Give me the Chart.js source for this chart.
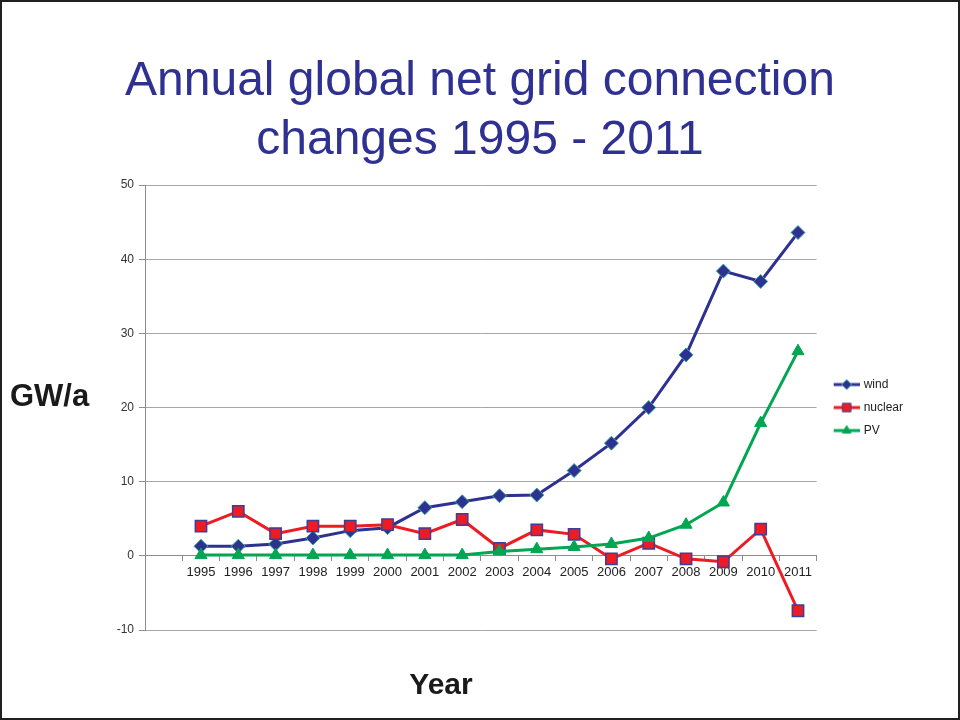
<!DOCTYPE html>
<html>
<head>
<meta charset="utf-8">
<title>Annual global net grid connection changes 1995 - 2011</title>
<script src="https://cdn.jsdelivr.net/npm/chart.js@4/dist/chart.umd.min.js"></script>
<style>
  html, body { margin: 0; padding: 0; background: #fff; }
  #slide { position: relative; width: 960px; height: 720px; overflow: hidden; }
  #slide canvas { position: absolute; left: 0; top: 0; }
  #frame { position: absolute; left: 0; top: 0; width: 960px; height: 720px; box-sizing: border-box;
           border: 2px solid #231f20; pointer-events: none; }
  .axis-name { position: absolute; font-family: "Liberation Sans", Arial, sans-serif; font-weight: bold;
               color: #1a1a1a; white-space: nowrap; }
  #yname { left: 10px; top: 378px; font-size: 31px; line-height: 36px; }
  #xname { left: 391px; top: 667px; width: 100px; text-align: center; font-size: 30px; line-height: 34px; }
</style>
</head>
<body>
<div id="slide">
  <canvas id="grid"></canvas>
  <div class="axis-name" id="yname">GW/a</div>
  <div class="axis-name" id="xname">Year</div>
  <div id="frame"></div>
</div>
<script>
const years = ['1995', '1996', '1997', '1998', '1999', '2000', '2001', '2002', '2003',
               '2004', '2005', '2006', '2007', '2008', '2009', '2010', '2011'];
const wind = [1.3, 1.3, 1.6, 2.4, 3.4, 3.8, 6.5, 7.3, 8.1, 8.2, 11.5, 15.2, 20.0, 27.1, 38.4, 37.0, 43.6];
const nuclear = [4.0, 6.0, 3.0, 4.0, 4.0, 4.2, 3.0, 4.9, 1.0, 3.5, 2.9, -0.4, 1.7, -0.4, -0.8, 3.6, -7.4];
const pv = [0.1, 0.1, 0.1, 0.1, 0.1, 0.1, 0.1, 0.1, 0.6, 0.9, 1.2, 1.6, 2.4, 4.2, 7.2, 17.9, 27.6];
const yTicks = [-10, 0, 10, 20, 30, 40, 50];

// the category axis keeps one blank slot in front of 1995
const labels = [''].concat(years);
const pad = arr => [null].concat(arr);

const FONT = '"Liberation Sans", Arial, sans-serif';

// small line-with-marker swatch for the legend
function swatch(ds) {
  const c = document.createElement('canvas');
  c.width = 34; c.height = 14;
  const ctx = c.getContext('2d');
  ctx.strokeStyle = ds.borderColor;
  ctx.lineWidth = 3;
  ctx.beginPath();
  ctx.moveTo(8, 7);
  ctx.lineTo(34, 7);
  ctx.stroke();
  ctx.fillStyle = ds.pointBackgroundColor;
  ctx.strokeStyle = ds.pointBorderColor;
  ctx.lineWidth = 1;
  Chart.helpers.drawPoint(ctx, {pointStyle: ds.pointStyle, radius: ds.legendRadius, borderWidth: 1, rotation: 0}, 21, 7);
  return c;
}

const datasets = [
  {
    label: 'wind', data: pad(wind), order: 3,
    borderColor: '#2e3192', borderWidth: 3,
    pointStyle: 'rectRot', pointRadius: 7, legendRadius: 5,
    pointBackgroundColor: '#2e3192', pointBorderColor: '#3aa99c', pointBorderWidth: 1
  },
  {
    label: 'nuclear', data: pad(nuclear), order: 2,
    borderColor: '#ed1c24', borderWidth: 3,
    pointStyle: 'rect', pointRadius: 8, legendRadius: 6,
    pointBackgroundColor: '#ed1c24', pointBorderColor: '#3d3d9c', pointBorderWidth: 1.5
  },
  {
    label: 'PV', data: pad(pv), order: 1,
    borderColor: '#00a651', borderWidth: 3,
    pointStyle: 'triangle', pointRadius: 7, legendRadius: 5,
    pointBackgroundColor: '#00a651', pointBorderColor: '#00a651', pointBorderWidth: 1
  }
];

const el = document.getElementById('grid');
el.width = 960; el.height = 720;

new Chart(el, {
  type: 'line',
  data: { labels: labels, datasets: datasets },
  options: {
    responsive: false,
    animation: false,
    spanGaps: false,
    elements: { line: { tension: 0 } },
    // equal side padding keeps the title centred on the slide
    layout: { padding: { left: 47, right: 47, top: 0, bottom: 90 } },
    plugins: {
      title: {
        display: true,
        text: ['Annual global net grid connection', 'changes 1995 - 2011'],
        color: '#2e3192',
        font: { family: FONT, size: 48, weight: 'normal', lineHeight: 1.23 },
        padding: { top: 52, bottom: 15 }
      },
      legend: {
        position: 'right',
        fullSize: false,
        labels: {
          usePointStyle: true,
          pointStyleWidth: 30,
          padding: 11,
          color: '#222',
          font: { family: FONT, size: 12 },
          generateLabels: chart => chart.data.datasets.map((ds, i) => ({
            text: ds.label,
            pointStyle: swatch(ds),
            fillStyle: ds.borderColor,
            strokeStyle: ds.borderColor,
            lineWidth: 0,
            fontColor: '#222',
            datasetIndex: i,
            hidden: false
          }))
        }
      },
      tooltip: { enabled: false }
    },
    scales: {
      x: {
        position: { y: 0 },
        offset: true,
        grid: { offset: true, drawOnChartArea: false, tickLength: 5, color: '#8c8c8c' },
        border: { color: '#8c8c8c', width: 1 },
        ticks: { color: '#222', font: { family: FONT, size: 13 }, padding: 4, maxRotation: 0, autoSkip: false }
      },
      y: {
        min: -10, max: 50,
        afterBuildTicks: axis => { axis.ticks = yTicks.map(v => ({ value: v })); },
        afterFit: axis => { axis.width = 98; },
        grid: { color: '#a6a6a6', tickLength: 6, tickColor: '#8c8c8c' },
        border: { color: '#8c8c8c', width: 1 },
        ticks: { color: '#333', font: { family: FONT, size: 12 }, padding: 5 }
      }
    }
  }
});
</script>
</body>
</html>
